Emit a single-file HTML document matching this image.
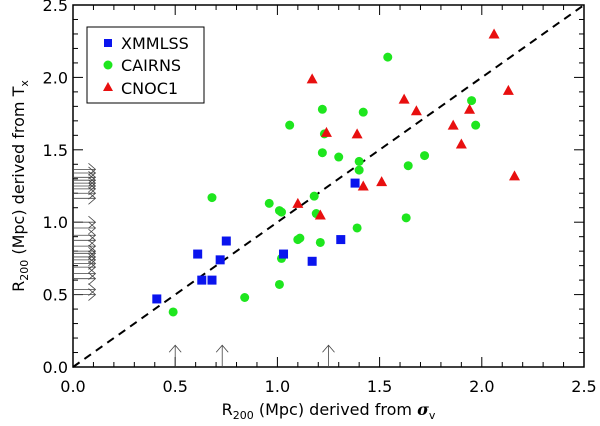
<!DOCTYPE html>
<html><head><meta charset="utf-8"><style>
html,body{margin:0;padding:0;background:#fff;}
svg{display:block;font-family:"DejaVu Sans","Liberation Sans",sans-serif;}
</style></head><body>
<svg id="chart" width="600" height="426" viewBox="0 0 600 426"></svg>
<script>
const xmmX=[0.41,0.61,0.63,0.68,0.72,0.75,1.03,1.17,1.31,1.38];
const xmmY=[0.47,0.78,0.60,0.60,0.74,0.87,0.78,0.73,0.88,1.27];
const caiX=[0.49,0.84,0.68,0.96,1.01,1.02,1.01,1.02,1.10,1.11,1.18,1.19,1.21,1.22,1.30,1.39,1.40,1.40,1.54,1.22,1.42,1.23,1.72,1.64,1.95,1.97,1.63,1.06];
const caiY=[0.38,0.48,1.17,1.13,1.08,1.07,0.57,0.75,0.88,0.89,1.18,1.06,0.86,1.48,1.45,0.96,1.42,1.36,2.14,1.78,1.76,1.61,1.46,1.39,1.84,1.67,1.03,1.67];
const cnoX=[2.06,2.13,1.62,1.68,1.86,1.94,1.90,2.16,1.51,1.42,1.21,1.24,1.17,1.10,1.39];
const cnoY=[2.30,1.91,1.85,1.77,1.67,1.78,1.54,1.32,1.28,1.25,1.05,1.62,1.99,1.13,1.61];
const limYs=[1.365,1.34,1.31,1.29,1.27,1.25,1.23,1.20,1.165,1.00,0.96,0.91,0.875,0.835,0.80,0.785,0.76,0.74,0.715,0.69,0.645,0.61,0.535,0.50];
const limXs=[0.50,0.73,1.25];
const tickVals=[0,0.5,1,1.5,2,2.5];
const tickLabels=["0.0","0.5","1.0","1.5","2.0","2.5"];

const L=73,R=584,T=5,B=367;
const sx=v=>L+(v/2.5)*(R-L);
const sy=v=>B-(v/2.5)*(B-T);
const svg=document.getElementById('chart');
const NS='http://www.w3.org/2000/svg';
function mk(tag,attrs,parent){const e=document.createElementNS(NS,tag);for(const k in attrs)e.setAttribute(k,attrs[k]);(parent||svg).appendChild(e);return e;}

const fr=mk('rect',{x:L,y:T,width:R-L,height:B-T,fill:'none',stroke:'#000','stroke-width':1.5});



for(let i=0;i<=25;i++){
  const v=i/10, major=i%5===0, len=major?10:5;
  const x=sx(v), y=sy(v);
  const t1=mk('line',{x1:x,y1:B,x2:x,y2:B-len,stroke:'#000','stroke-width':1});
  
  
  const t2=mk('line',{x1:x,y1:T,x2:x,y2:T+len,stroke:'#000','stroke-width':1});
  
  
  const t3=mk('line',{x1:L,y1:y,x2:L+len,y2:y,stroke:'#000','stroke-width':1});
  
  
  const t4=mk('line',{x1:R,y1:y,x2:R-len,y2:y,stroke:'#000','stroke-width':1});
  
  
}
tickVals.forEach((v,i)=>{
  const tx=mk('text',{x:sx(v),y:B+25,'font-size':16,'text-anchor':'middle'});
  tx.textContent=tickLabels[i];
  
  
  const ty=mk('text',{x:L-5,y:sy(v)+6,'font-size':16,'text-anchor':'end'});
  ty.textContent=tickLabels[i];
  
  
});

const dl=mk('line',{x1:sx(0),y1:sy(0),x2:sx(2.5),y2:sy(2.5),stroke:'#000','stroke-width':2,'stroke-dasharray':'8,6'});



limYs.forEach(v=>{
  const y=sy(v), x2=sx(0.11);
  const g=mk('g',{stroke:'#444','stroke-width':0.8,fill:'none'});
  
  
  mk('line',{x1:L,y1:y,x2:x2,y2:y},g);
  mk('polyline',{points:`${x2-7},${y-6} ${x2},${y} ${x2-7},${y+6}`},g);
});
limXs.forEach(v=>{
  const x=sx(v), y2=sy(0.15);
  const g=mk('g',{stroke:'#444','stroke-width':0.8,fill:'none'});
  
  
  mk('line',{x1:x,y1:B,x2:x,y2:y2},g);
  mk('polyline',{points:`${x-6},${y2+7} ${x},${y2} ${x+6},${y2+7}`},g);
});

caiX.forEach((v,i)=>{
  const c=mk('circle',{cx:sx(v),cy:sy(caiY[i]),r:4.5,fill:'#1ee61e'});
  
  
});
xmmX.forEach((v,i)=>{
  const s=mk('rect',{x:sx(v)-4.5,y:sy(xmmY[i])-4.5,width:9,height:9,fill:'#0a14ee'});
  
  
});
cnoX.forEach((v,i)=>{
  const x=sx(v),y=sy(cnoY[i]);
  const p=mk('polygon',{points:`${x},${y-5.5} ${x+5.5},${y+4.5} ${x-5.5},${y+4.5}`,fill:'#e80f0f'});
  
  
});

const lg=mk('g',{});


mk('rect',{x:87,y:27,width:117,height:76,fill:'#fff',stroke:'#000','stroke-width':1},lg);
mk('rect',{x:104,y:39,width:8,height:8,fill:'#0a14ee'},lg);
mk('circle',{cx:108,cy:65,r:4.5,fill:'#1ee61e'},lg);
mk('polygon',{points:'108,82 113,91 103,91',fill:'#e80f0f'},lg);
[['XMMLSS',49],['CAIRNS',71],['CNOC1',94]].forEach(([t,y])=>{
  const e=mk('text',{x:121,y:y,'font-size':16},lg);
  e.textContent=t;
  
  
});

const xt=mk('text',{x:sx(1.25),y:415,'font-size':16,'text-anchor':'middle'});


xt.innerHTML='R<tspan font-size="11" dy="4">200</tspan><tspan dy="-4"> (Mpc) derived from </tspan><tspan font-family="DejaVu Serif, serif" font-style="italic" font-weight="bold">σ</tspan><tspan font-size="11" dy="4">v</tspan>';
const yt=mk('text',{x:0,y:0,'font-size':16,'text-anchor':'middle',transform:`translate(24,${(T+B)/2}) rotate(-90)`});


yt.innerHTML='R<tspan font-size="11" dy="4">200</tspan><tspan dy="-4"> (Mpc) derived from T</tspan><tspan font-size="11" dy="4">x</tspan>';
</script>
</body></html>
